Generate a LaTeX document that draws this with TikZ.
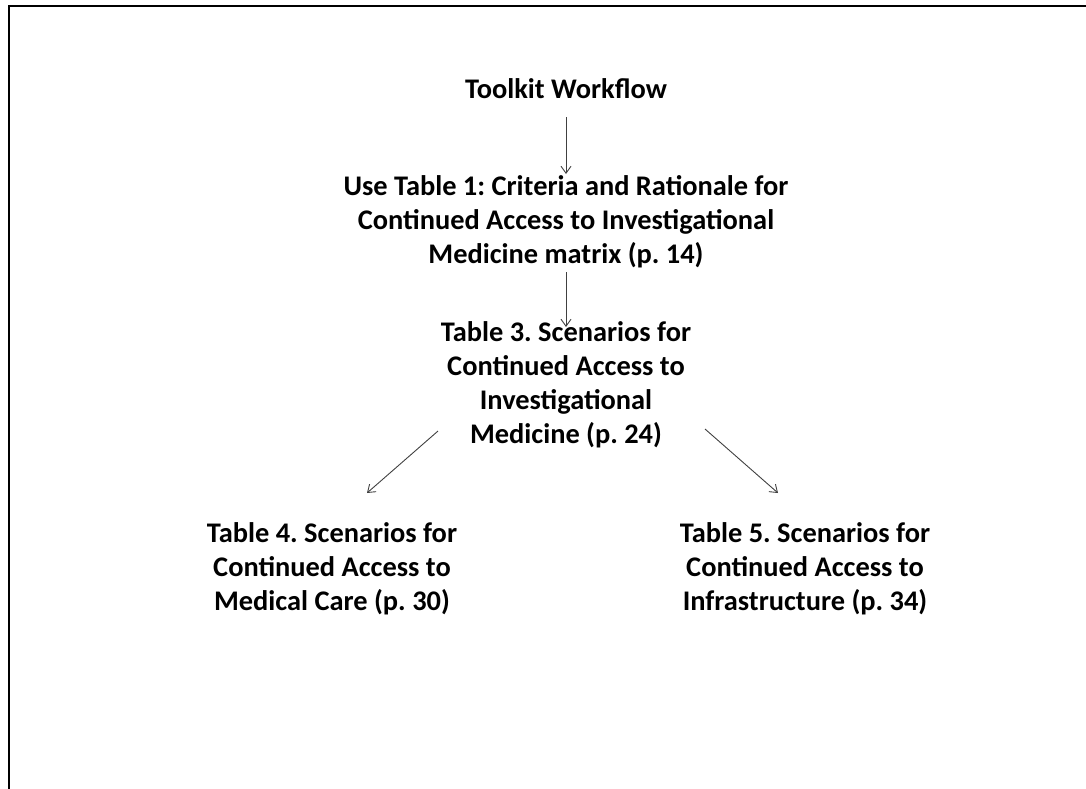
\documentclass[tikz,border=0pt]{standalone}
\usepackage{fontspec}
\setmainfont{Carlito}
\usetikzlibrary{arrows.meta,calc}
\begin{document}
\frenchspacing
\begin{tikzpicture}[x=1pt,y=-1pt,
  lbl/.style={anchor=base,inner sep=0pt,align=center,
    font=\fontsize{28.4}{33.8}\selectfont\bfseries\frenchspacing},
  arr/.style={draw=black!75,line width=0.9pt,
    -{Straight Barb[length=7pt,width=10pt,line width=0.9pt]}}]
\useasboundingbox (0,0) rectangle (1086,788);
\draw[line width=2pt] (9,789) -- (9,6) -- (1087,6);
\node[lbl] (tw) at (566,98) {Toolkit Workflow};
\node[lbl] (ut) at (566,263) {Use Table 1: Criteria and Rationale for\\Continued Access to Investigational\\Medicine matrix (p. 14)};
\node[lbl] (t3) at (566,443) {Table 3. Scenarios for\\Continued Access to\\Investigational\\Medicine (p. 24)};
\node[lbl] (t4) at (332,610) {Table 4. Scenarios for\\Continued Access to\\Medical Care (p. 30)};
\node[lbl] (t5) at (805,610) {Table 5. Scenarios for\\Continued Access to\\Infrastructure (p. 34)};
\draw[arr] ($(tw.base)+(0,19)$) -- ($(ut.base)+(0,-89)$);
\draw[arr] ($(ut.base)+(0,9)$) -- ($(t3.base)+(0,-116)$);
\draw[arr] ($(t3.base)+(-128,-12)$) -- ($(t4.base)+(35,-117)$);
\draw[arr] ($(t3.base)+(139,-14)$) -- ($(t5.base)+(-27,-117)$);
\end{tikzpicture}
\end{document}
